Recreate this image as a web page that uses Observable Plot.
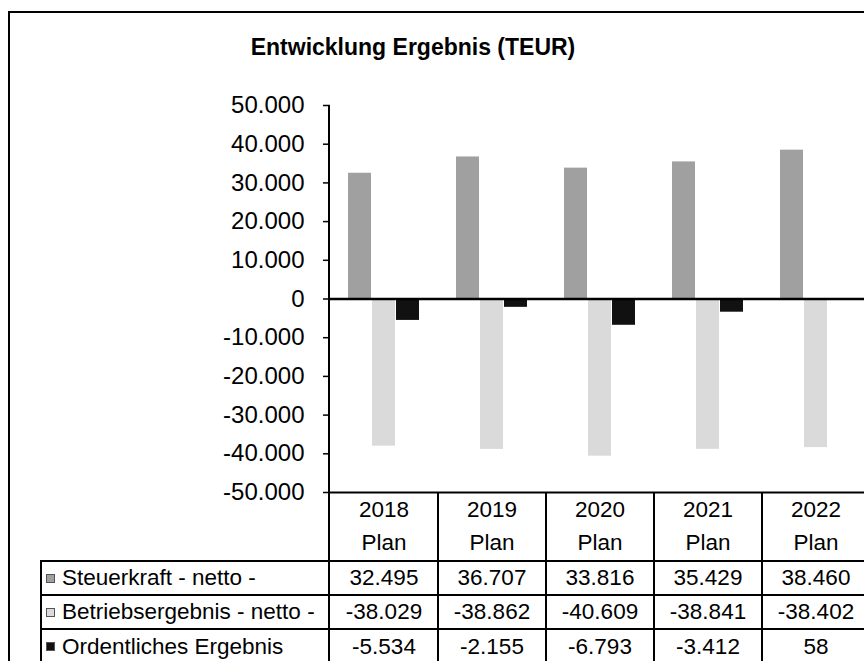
<!DOCTYPE html>
<html>
<head>
<meta charset="utf-8">
<script src="https://cdn.jsdelivr.net/npm/d3@7"></script>
<script src="https://cdn.jsdelivr.net/npm/@observablehq/plot@0.6"></script>
<style>
  html, body { margin: 0; padding: 0; background: #fff; overflow: hidden; }
  #wrap { position: relative; width: 864px; height: 661px; overflow: hidden; font-family: "Liberation Sans", Arial, sans-serif; color: #000; }
  #frame { position: absolute; left: 8px; top: 11px; width: 900px; height: 700px; border-left: 2px solid #000; border-top: 2px solid #000; }
  #title { position: absolute; left: 0; width: 826px; top: 30px; text-align: center; font-weight: bold; font-size: 23px; line-height: 34px; }
  #chart { position: absolute; left: 0; top: 0; }
  .ln { position: absolute; background: #000; }
  .tx { position: absolute; font-size: 22.5px; line-height: 30px; white-space: nowrap; }
  .sw { position: absolute; width: 9px; height: 9px; }
</style>
</head>
<body>
<div id="wrap">
  <div id="frame"></div>
  <div id="title">Entwicklung Ergebnis (TEUR)</div>
  <div id="chart"></div>
</div>
<script>
const years = ["2018", "2019", "2020", "2021", "2022"];
const yearSub = ["Plan", "Plan", "Plan", "Plan", "Plan"];
const series = ["Steuerkraft - netto -", "Betriebsergebnis - netto -", "Ordentliches Ergebnis"];
const steuerkraft = [32495, 36707, 33816, 35429, 38460];
const betriebsergebnis = [-38029, -38862, -40609, -38841, -38402];
const ordentliches = [-5534, -2155, -6793, -3412, 58];
const yTicks = [50000, 40000, 30000, 20000, 10000, 0, -10000, -20000, -30000, -40000, -50000];
const colors = ["#a0a0a0", "#dadada", "#111111"];

const seriesValues = [steuerkraft, betriebsergebnis, ordentliches];
const data = years.flatMap((yr, i) => series.map((s, j) => ({year: yr, series: s, value: seriesValues[j][i]})));

const loc = d3.formatLocale({decimal: ",", thousands: ".", grouping: [3], currency: ["", " €"], minus: "-"});
const fmt = loc.format(",");

const plot = Plot.plot({
  width: 880,
  height: 661,
  marginTop: 105,
  marginBottom: 169,
  marginLeft: 329,
  marginRight: 10,
  style: {background: "transparent", maxWidth: "none", fontFamily: "'Liberation Sans', Arial, sans-serif", fontSize: "24px", color: "#000", overflow: "visible"},
  fx: {domain: years, padding: 0, axis: null, label: null},
  x: {domain: series, paddingInner: 0.04, paddingOuter: 0.75, axis: null},
  y: {domain: [-50000, 50000], label: null, axis: null},
  color: {domain: series, range: colors},
  marks: [
    Plot.barY(data, {fx: "year", x: "series", y: "value", fill: "series"}),
    Plot.ruleY([0], {stroke: "#000", strokeWidth: 2.5}),
    Plot.ruleY([-50000], {stroke: "#000", strokeWidth: 2}),
    Plot.axisY({ticks: yTicks, tickFormat: fmt, tickSize: 7, tickPadding: 19, fontSize: 24, strokeWidth: 1.5})
  ]
});
document.getElementById("chart").appendChild(plot);

// data table below the plot, aligned to the fx scale
const fx = plot.scale("fx");
const y = plot.scale("y");
const wrap = document.getElementById("wrap");
function add(cls, css, text) {
  const d = document.createElement("div");
  d.className = cls;
  Object.assign(d.style, css);
  if (text != null) d.textContent = text;
  wrap.appendChild(d);
  return d;
}
const x0 = fx.range[0];
const step = fx.step;
const yBottom = y.apply(-50000);
const yTop = y.apply(50000);
const legendLeft = 41;
const headerBottom = 561;
const rowEdges = [561, 595, 629, 664];

// y axis line continuing into table
add("ln", {left: (x0 - 1) + "px", top: yTop + "px", width: "2px", height: (664 - yTop) + "px"});
// column dividers and header
years.forEach((yr, i) => {
  const left = fx.apply(yr);
  if (i > 0) add("ln", {left: (left - 1) + "px", top: yBottom + "px", width: "2px", height: (664 - yBottom) + "px"});
  add("tx", {left: left + "px", width: step + "px", top: (510 - 15) + "px", textAlign: "center"}, yr);
  add("tx", {left: left + "px", width: step + "px", top: (543 - 15) + "px", textAlign: "center"}, yearSub[i]);
});
// legend column left border
add("ln", {left: (legendLeft - 1) + "px", top: headerBottom + "px", width: "2px", height: (664 - headerBottom) + "px"});
// horizontal row lines
rowEdges.slice(0, 3).forEach(yy => {
  add("ln", {left: (legendLeft - 1) + "px", top: (yy - 1) + "px", width: (880 - legendLeft) + "px", height: "2px"});
});
// rows
series.forEach((s, j) => {
  const mid = (rowEdges[j] + rowEdges[j + 1]) / 2;
  add("sw", {left: "46px", top: (mid - 4.5) + "px", background: colors[j], border: "0.5px solid #555", boxSizing: "border-box"});
  add("tx", {left: "62px", top: (mid - 15) + "px"}, s);
  years.forEach((yr, i) => {
    add("tx", {left: fx.apply(yr) + "px", width: step + "px", top: (mid - 15) + "px", textAlign: "center"}, fmt(seriesValues[j][i]));
  });
});
</script>
</body>
</html>
